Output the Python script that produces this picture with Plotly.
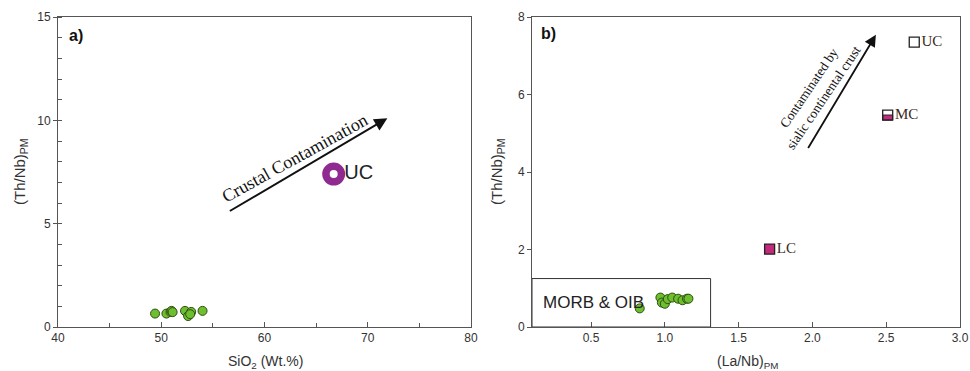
import plotly.graph_objects as go

# ---- data: panel a ----
a_sio2 = [49.4, 50.5, 50.9, 51.0, 51.1, 52.3, 52.9, 52.6, 52.8, 54.0]
a_thnb = [0.65, 0.65, 0.73, 0.78, 0.72, 0.78, 0.73, 0.53, 0.62, 0.78]
uc_a_x = [66.7]
uc_a_y = [7.4]
arrow_a = [56.5, 5.57, 71.9, 10.1]  # x0, y0, x1, y1

# ---- data: panel b ----
b_lanb = [0.83, 0.97, 0.98, 1.00, 1.02, 1.05, 1.09, 1.12, 1.15, 1.16]
b_thnb = [0.48, 0.76, 0.63, 0.60, 0.72, 0.76, 0.73, 0.69, 0.73, 0.73]
crust_names = ["LC", "MC", "UC"]
crust_x = [1.71, 2.51, 2.69]
crust_y = [2.01, 5.47, 7.35]
morb_box = [0.1, 1.31, 0.0, 1.25]
arrow_b = [1.965, 4.58, 2.43, 7.54]

a_xticks = [40, 50, 60, 70, 80]
a_yticks = [0, 5, 10, 15]
b_xticks = [0.5, 1.0, 1.5, 2.0, 2.5, 3.0]
b_yticks = [0, 2, 4, 6, 8]

GREEN = "#6dbf30"
GREEN_EDGE = "#2f4d12"
PURPLE = "#8e2a90"
MAGENTA = "#c4297c"
LABEL_BROWN = "#3a2a22"

W, H = 970, 371
L, R, T, B = 58, 10, 17, 44
PW = W - L - R
PH = H - T - B


def px(x):
    return (x - L) / PW


def py(y):
    return (H - B - y) / PH


fig = go.Figure()

fig.add_trace(go.Scatter(
    x=a_sio2, y=a_thnb, mode="markers", xaxis="x", yaxis="y",
    marker=dict(size=9, color=GREEN, line=dict(color=GREEN_EDGE, width=1)),
    showlegend=False, hoverinfo="skip"))
fig.add_trace(go.Scatter(
    x=uc_a_x, y=uc_a_y, mode="markers+text", xaxis="x", yaxis="y",
    marker=dict(size=15.5, color="white", line=dict(color=PURPLE, width=7.5)),
    text=["UC"], textposition="middle right",
    textfont=dict(family="Liberation Sans, Arial", size=20, color="#222"),
    showlegend=False, hoverinfo="skip"))

fig.add_trace(go.Scatter(
    x=b_lanb, y=b_thnb, mode="markers", xaxis="x2", yaxis="y2",
    marker=dict(size=9, color=GREEN, line=dict(color=GREEN_EDGE, width=1)),
    showlegend=False, hoverinfo="skip"))
fills = [MAGENTA, "rgba(0,0,0,0)", "white"]
fig.add_trace(go.Scatter(
    x=crust_x, y=crust_y, mode="markers+text", xaxis="x2", yaxis="y2",
    marker=dict(symbol="square", size=10, color=fills,
                line=dict(color="#222", width=1.3)),
    text=crust_names, textposition="middle right",
    textfont=dict(family="Liberation Serif, Times New Roman", size=15, color=LABEL_BROWN),
    showlegend=False, hoverinfo="skip"))

shapes = [
    dict(type="rect", xref="x2", yref="y2", x0=morb_box[0], x1=morb_box[1],
         y0=morb_box[2], y1=morb_box[3], line=dict(color="#333", width=1)),
    dict(type="rect", xref="x2", yref="y2", xsizemode="pixel", ysizemode="pixel",
         xanchor=crust_x[1], yanchor=crust_y[1], x0=-5, x1=5, y0=-5, y1=0,
         fillcolor=MAGENTA, line=dict(color="#222", width=1), layer="below"),
]

axis_common = dict(showline=True, linecolor="#555", linewidth=1, mirror=True,
                   showgrid=False, zeroline=False, automargin=False,
                   tickfont=dict(family="Liberation Sans, Arial", size=12, color="#333"),
                   tickcolor="#555", tickwidth=1)

fig.update_layout(
    width=W, height=H,
    margin=dict(l=L, r=R, t=T, b=B, autoexpand=False),
    paper_bgcolor="white", plot_bgcolor="white",
    xaxis=dict(domain=[0, (471 - L) / PW], range=[40, 80], tickvals=a_xticks,
               ticks="inside", ticklen=5,
               minor=dict(dtick=5, ticks="inside", ticklen=4, tickcolor="#555"),
               **axis_common),
    yaxis=dict(domain=[0, 1], range=[0, 15], tickvals=a_yticks,
               ticks="outside", ticklen=4,
               minor=dict(dtick=1, ticks="inside", ticklen=4, tickcolor="#555"),
               **axis_common),
    xaxis2=dict(domain=[(532 - L) / PW, 1], range=[0.1, 3.0], tickvals=b_xticks,
                tickformat=".1f", ticks="inside", ticklen=5, anchor="y2",
                **axis_common),
    yaxis2=dict(domain=[0, 1], range=[0, 8], tickvals=b_yticks,
                ticks="outside", ticklen=4, anchor="x2",
                **axis_common),
    shapes=shapes,
)

sans = "Liberation Sans, Arial"
serif = "Liberation Serif, Times New Roman"


def pann(x, y, text, size, family=sans, angle=0, color="#333"):
    return dict(x=px(x), y=py(y), xref="paper", yref="paper", text=text,
                xanchor="center", yanchor="middle", textangle=angle,
                showarrow=False, font=dict(family=family, size=size, color=color))


ann = [
    pann(76, 35, "<b>a)</b>", 16, color="#111"),
    pann(548, 34, "<b>b)</b>", 16, color="#111"),
    pann(265, 362, "SiO<sub>2</sub> (Wt.%)", 14),
    pann(747, 362, "(La/Nb)<sub>PM</sub>", 14),
    pann(20, 172, "(Th/Nb)<sub>PM</sub>", 15, angle=-90),
    pann(497, 172, "(Th/Nb)<sub>PM</sub>", 15, angle=-90),
    pann(295, 158, "Crustal Contamination", 18, family=serif, angle=-29, color="#111"),
    pann(817, 93, "Contaminated by<br>sialic continental crust", 13.5, family=serif,
         angle=-56, color="#111"),
    # MORB label
    dict(x=0.16, y=0.63, xref="x2", yref="y2", text="MORB & OIB", xanchor="left",
         yanchor="middle", showarrow=False, font=dict(family=sans, size=17, color="#222")),
    # arrows
    dict(x=arrow_a[2], y=arrow_a[3], ax=arrow_a[0], ay=arrow_a[1], xref="x", yref="y",
         axref="x", ayref="y", text="", showarrow=True, arrowhead=2, arrowsize=1.3,
         arrowwidth=2, arrowcolor="#111"),
    dict(x=arrow_b[2], y=arrow_b[3], ax=arrow_b[0], ay=arrow_b[1], xref="x2", yref="y2",
         axref="x2", ayref="y2", text="", showarrow=True, arrowhead=2, arrowsize=1.3,
         arrowwidth=1.8, arrowcolor="#111"),
]
fig.update_layout(annotations=ann)

fig.write_html(
    "out.html",
    config={"displayModeBar": False},
    post_script="document.body.style.margin='0px';document.body.style.overflow='hidden';",
)
